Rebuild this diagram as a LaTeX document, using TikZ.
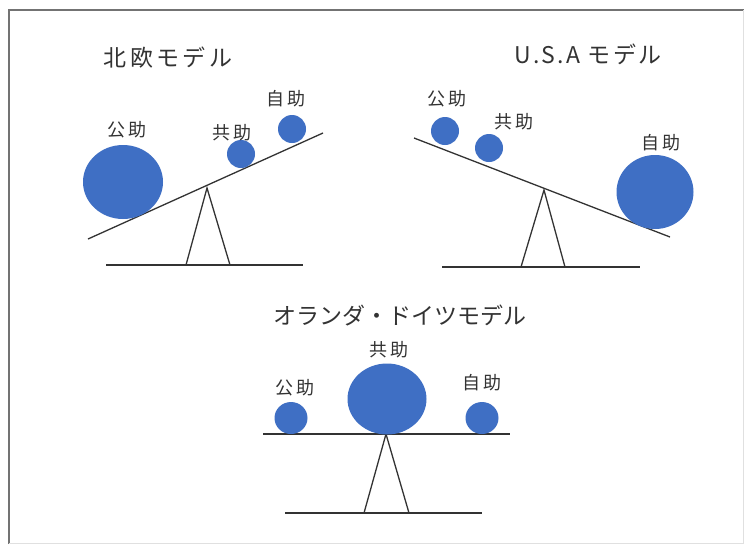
\documentclass[tikz,border=0pt]{standalone}
\usepackage{fontspec}
\setmainfont{Noto Sans CJK JP}
\usetikzlibrary{shapes.geometric}
\definecolor{ballblue}{HTML}{3F6FC4}
\definecolor{ink}{HTML}{333333}
\tikzset{
  ball/.style={ellipse, fill=ballblue, inner sep=0pt, draw=none},
  lbl/.style={text=ink, font=\fontsize{18}{18}\selectfont\addfontfeature{LetterSpace=18}, inner sep=0pt},
  ttl/.style={text=ink, font=\fontsize{23}{23}\selectfont, inner sep=0pt},
  bar/.style={draw=ink, line width=1.3pt},
}
\begin{document}
\begin{tikzpicture}[x=1pt,y=-1pt]
\useasboundingbox (0,0) rectangle (744,544);
\fill[white] (0,0) rectangle (744,544);
\draw[black!55, line width=1.5pt] (9,544) -- (9,10) -- (744,10);
\draw[black!12, line width=1pt] (743,10) -- (743,543) -- (9,543);

% Nordic
\node[ttl, font=\fontsize{23}{23}\selectfont\addfontfeature{LetterSpace=15}] (t1) at (168,58) {北欧モデル};
\coordinate (b1l) at (88,239); \coordinate (b1r) at (323,133);
\draw[bar] (b1l) -- (b1r);
\coordinate (a1) at (207,188);
\coordinate (f1l) at (186,265); \coordinate (f1r) at (230,265);
\draw[bar] (f1l) -- (a1) -- (f1r);
\coordinate (g1l) at (106,265); \coordinate (g1r) at (303,265);
\draw[bar] (g1l) -- (g1r);
\node[ball, minimum width=80, minimum height=74] (p1) at (123,182) {};
\node[ball, minimum width=28, minimum height=28] (k1) at (241,154) {};
\node[ball, minimum width=28, minimum height=28] (s1) at (292,129) {};
\node[lbl] (lp1) at (127,130) {公助};
\node[lbl] (lk1) at (232,133) {共助};
\node[lbl] (ls1) at (286,99) {自助};

% USA
\node[ttl, font=\fontsize{23}{23}\selectfont\addfontfeature{LetterSpace=10}] (t2) at (588,54) {U.S.A モデル};
\coordinate (b2l) at (414,138); \coordinate (b2r) at (670,237);
\draw[bar] (b2l) -- (b2r);
\coordinate (a2) at (544,190);
\coordinate (f2l) at (521,267); \coordinate (f2r) at (565,267);
\draw[bar] (f2l) -- (a2) -- (f2r);
\coordinate (g2l) at (442,267); \coordinate (g2r) at (640,267);
\draw[bar] (g2l) -- (g2r);
\node[ball, minimum width=28, minimum height=28] (p2) at (445,131) {};
\node[ball, minimum width=28, minimum height=28] (k2) at (489,148) {};
\node[ball, minimum width=77, minimum height=74] (s2) at (655,192) {};
\node[lbl] (lp2) at (447,99) {公助};
\node[lbl] (lk2) at (514,122) {共助};
\node[lbl] (ls2) at (661,143) {自助};

% Netherlands / Germany
\node[ttl] (t3) at (400,315) {オランダ・ドイツモデル};
\coordinate (b3l) at (263,434); \coordinate (b3r) at (510,434);
\draw[bar] (b3l) -- (b3r);
\coordinate (a3) at (386,434);
\coordinate (f3l) at (364,513); \coordinate (f3r) at (409,513);
\draw[bar] (f3l) -- (a3) -- (f3r);
\coordinate (g3l) at (285,513); \coordinate (g3r) at (482,513);
\draw[bar] (g3l) -- (g3r);
\node[ball, minimum width=33, minimum height=32] (p3) at (291,418) {};
\node[ball, minimum width=79, minimum height=71] (k3) at (387,399) {};
\node[ball, minimum width=33, minimum height=32] (s3) at (482,418) {};
\node[lbl] (lp3) at (295,388) {公助};
\node[lbl] (lk3) at (389,350) {共助};
\node[lbl] (ls3) at (482,383) {自助};
\end{tikzpicture}
\end{document}
